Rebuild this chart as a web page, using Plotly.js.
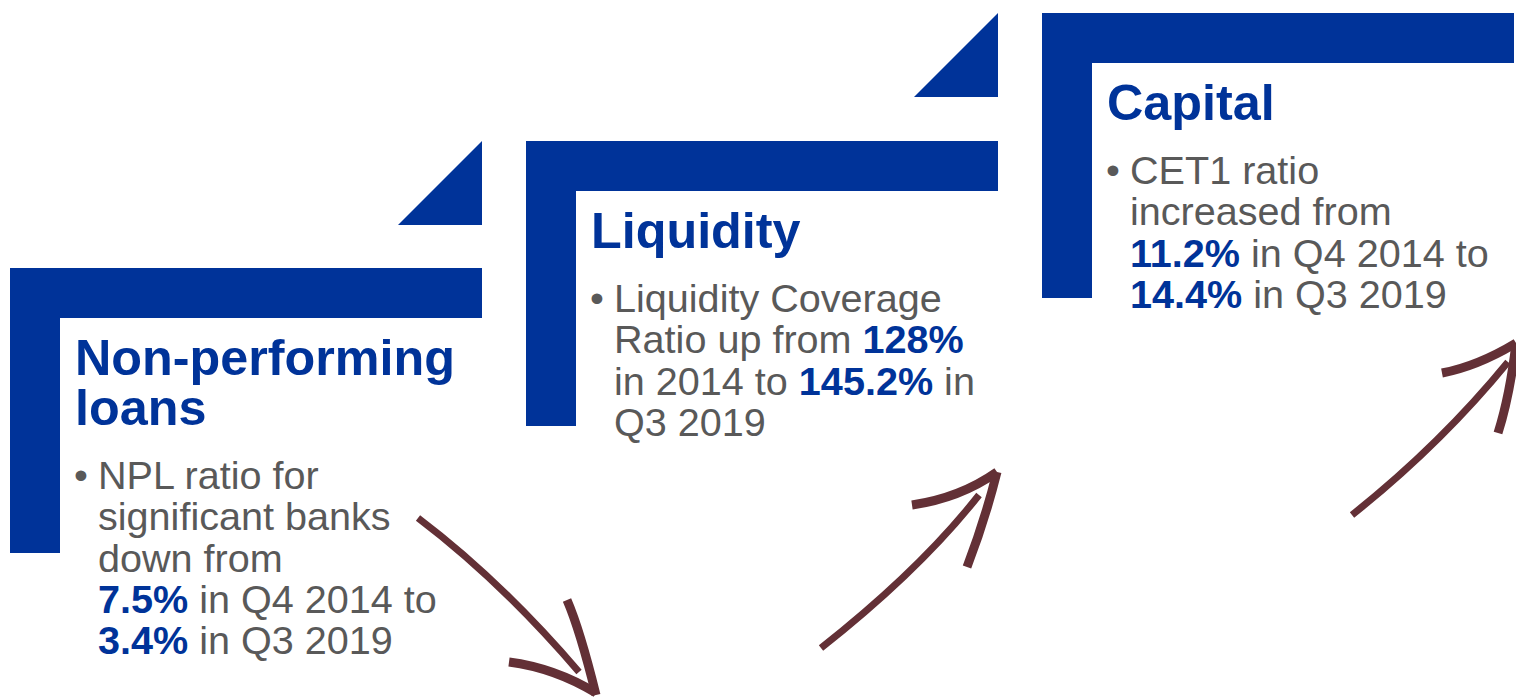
<!DOCTYPE html>
<html>
<head>
<meta charset="utf-8">
<script src="https://cdn.plot.ly/plotly-3.0.1.min.js"></script>
<style>
  html, body { margin: 0; padding: 0; background: #fff; }
  #plot { width: 1516px; height: 697px; }
</style>
</head>
<body>
<div id="plot"></div>
<script>
// headline of each block
const titles = [['Non-performing', 'loans'], ['Liquidity'], ['Capital']];

// indicator values shown in the bullets
const indicators = ['NPL ratio', 'Liquidity Coverage Ratio', 'CET1 ratio'];
const startValues = ['7.5%', '128%', '11.2%'];
const endValues = ['3.4%', '145.2%', '14.4%'];
const startPeriods = ['Q4 2014', '2014', 'Q4 2014'];
const endPeriods = ['Q3 2019', 'Q3 2019', 'Q3 2019'];

// colours
const blue = '#003399';
const grey = '#595959';
const brown = '#633036';

// block frame placement (pixel space)
const blockLeft = [10, 526, 1042];
const blockTop = [268, 141, 13];
const barW = 472, barH = 285, thick = 50, tri = 84;

function hl(v) {
    return '<span style="color:' + blue + '"><b>' + v + '</b></span>';
}

// bullet text, broken the way the slide breaks it
const bulletLines = [
    [indicators[0] + ' for', 'significant banks', 'down from',
     hl(startValues[0]) + ' in ' + startPeriods[0] + ' to', hl(endValues[0]) + ' in ' + endPeriods[0]],
    ['Liquidity Coverage', 'Ratio up from ' + hl(startValues[1]),
     'in ' + startPeriods[1] + ' to ' + hl(endValues[1]) + ' in', endPeriods[1]],
    [indicators[2], 'increased from',
     hl(startValues[2]) + ' in ' + startPeriods[2] + ' to', hl(endValues[2]) + ' in ' + endPeriods[2]]
];

const titleSize = 50.3, textSize = 39.6;
const shapes = [];
const annotations = [];

function textAt(x, baseline, txt, size, color, bold) {
    annotations.push({
        x: x, y: baseline - 0.35 * size, xref: 'x', yref: 'y',
        xanchor: 'left', yanchor: 'middle', showarrow: false,
        text: bold ? '<b>' + txt + '</b>' : txt,
        font: { family: 'Liberation Sans, Arial, sans-serif', size: size, color: color }
    });
}

for (let i = 0; i < titles.length; i++) {
    const l = blockLeft[i], t = blockTop[i];
    // L-shaped frame
    shapes.push({
        type: 'path', xref: 'x', yref: 'y', fillcolor: blue, line: { width: 0 },
        path: 'M' + l + ',' + t + ' L' + (l + barW) + ',' + t + ' L' + (l + barW) + ',' + (t + thick) +
              ' L' + (l + thick) + ',' + (t + thick) + ' L' + (l + thick) + ',' + (t + barH) +
              ' L' + l + ',' + (t + barH) + ' Z'
    });
    // step triangle up to the next block
    if (i < titles.length - 1) {
        const r = l + barW, tt = blockTop[i + 1];
        shapes.push({
            type: 'path', xref: 'x', yref: 'y', fillcolor: blue, line: { width: 0 },
            path: 'M' + (r - tri) + ',' + (tt + tri) + ' L' + r + ',' + (tt + tri) + ' L' + r + ',' + tt + ' Z'
        });
    }
    let base = t + 107;
    titles[i].forEach((line, k) => {
        textAt(l + 63, base + k * 50, line, titleSize, blue, true);
    });
    base += (titles[i].length - 1) * 50 + 64;
    textAt(l + 62, base, '•', textSize, grey, false);
    bulletLines[i].forEach((line, k) => {
        textAt(l + 86, base + k * 41.3, line, textSize, grey, false);
    });
}

// hand-drawn arrows: shaft, two barbs
const arrowPaths = [
    ['M418,518 Q500,580 579,672', 'M509,662 Q555,668 596,693', 'M567,600 Q580,630 596,695'],
    ['M821,648 Q920,570 979,495', 'M912,505 Q960,498 997,472', 'M967,567 Q985,520 997,472'],
    ['M1352,515 Q1440,445 1508,362', 'M1442,373 Q1478,366 1516,343', 'M1498,433 Q1510,395 1516,343']
];
arrowPaths.forEach(a => {
    a.forEach((p, k) => {
        shapes.push({
            type: 'path', xref: 'x', yref: 'y', path: p,
            line: { color: brown, width: k === 0 ? 7 : 9 }
        });
    });
});

const layout = {
    width: 1516,
    height: 697,
    margin: { l: 0, r: 0, t: 0, b: 0 },
    paper_bgcolor: '#fff',
    plot_bgcolor: '#fff',
    showlegend: false,
    xaxis: { range: [0, 1516], visible: false, fixedrange: true },
    yaxis: { range: [697, 0], visible: false, fixedrange: true },
    shapes: shapes,
    annotations: annotations
};

Plotly.newPlot('plot', [], layout, { staticPlot: true });
</script>
</body>
</html>
